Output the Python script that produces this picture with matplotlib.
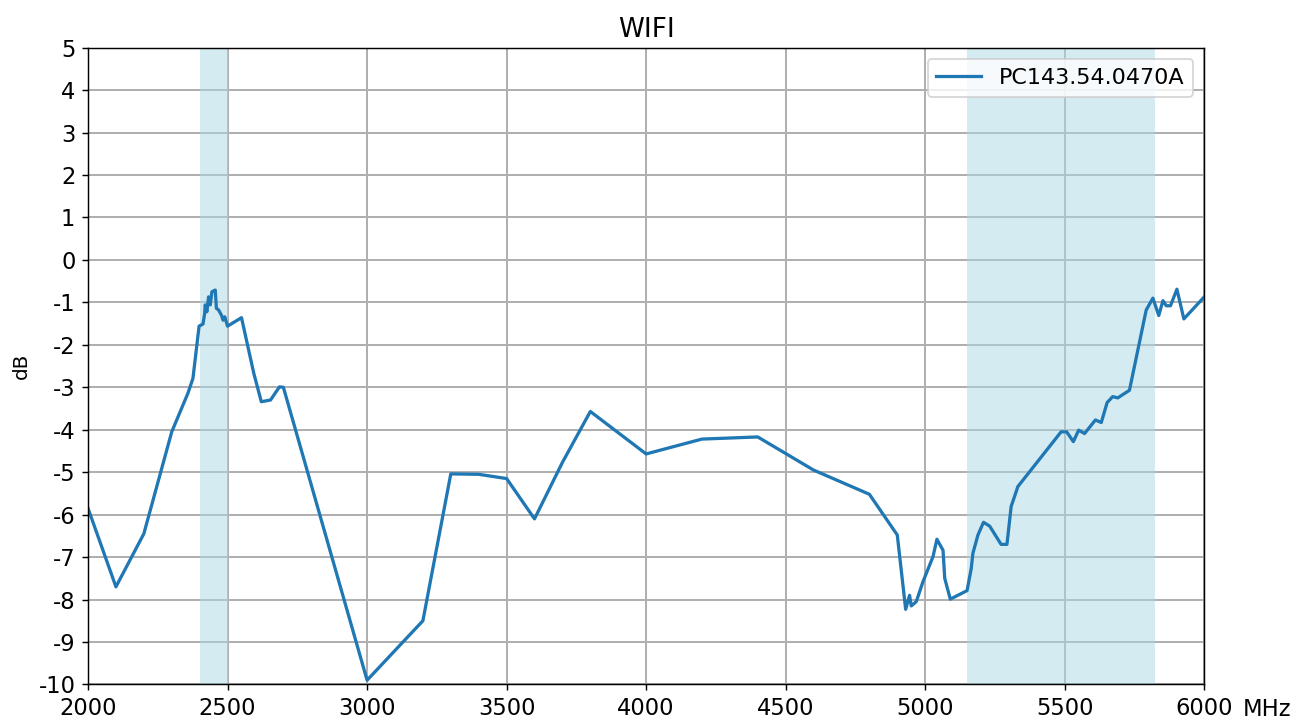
import matplotlib
matplotlib.use("Agg")
import matplotlib.pyplot as plt

plt.rcParams.update({"axes.unicode_minus": False, "font.size": 12})

freq_mhz = [2000, 2100, 2200, 2300, 2358, 2376, 2398, 2412, 2418, 2420, 2426,
            2432, 2438, 2444, 2456, 2460, 2468, 2478, 2484, 2490, 2500, 2550,
            2594, 2621, 2654, 2686, 2700, 3000, 3200, 3300, 3400, 3500, 3600,
            3700, 3800, 4000, 4200, 4400, 4600, 4800, 4900, 4930, 4944, 4950,
            4968, 4992, 5028, 5042, 5064, 5070, 5090, 5150, 5165, 5171, 5189,
            5209, 5231, 5272, 5293, 5308, 5332, 5487, 5507, 5531, 5550, 5571,
            5610, 5631, 5652, 5672, 5690, 5732, 5792, 5816, 5837, 5852, 5864,
            5879, 5902, 5927, 6000]
gain_db = [-5.85, -7.7, -6.45, -4.05, -3.14, -2.79, -1.56, -1.51, -1.26, -1.06, -1.22,
           -0.87, -1.06, -0.75, -0.71, -1.14, -1.18, -1.30, -1.42, -1.34, -1.56, -1.36,
           -2.67, -3.34, -3.30, -2.99, -3.0, -9.9, -8.5, -5.04, -5.05, -5.15, -6.1,
           -4.77, -3.57, -4.57, -4.22, -4.17, -4.95, -5.52, -6.48, -8.23, -7.9, -8.15,
           -8.05, -7.58, -6.99, -6.58, -6.84, -7.5, -7.99, -7.79, -7.27, -6.91, -6.48,
           -6.18, -6.27, -6.70, -6.70, -5.81, -5.34, -4.05, -4.05, -4.28, -4.01, -4.09,
           -3.77, -3.83, -3.36, -3.22, -3.25, -3.07, -1.18, -0.90, -1.31, -0.96, -1.08,
           -1.08, -0.69, -1.39, -0.87]

wifi_bands = [(2400, 2500), (5150, 5825)]
series_name = "PC143.54.0470A"

fig = plt.figure(figsize=(1304 / 130, 722 / 130), dpi=130)
ax = fig.add_axes([0.0675, 0.052, 0.856, 0.882])

for lo, hi in wifi_bands:
    ax.axvspan(lo, hi, color="lightblue", alpha=0.5, lw=0)
ax.plot(freq_mhz, gain_db, color="#1f77b4", lw=1.8, label=series_name)

ax.set_xlim(2000, 6000)
ax.set_ylim(-10, 5)
ax.set_xticks(range(2000, 6001, 500))
ax.set_yticks(range(-10, 6))
ax.tick_params(labelsize=12.5)
ax.grid(True, color="#b0b0b0", lw=1.1)
ax.set_axisbelow(True)
ax.set_ylabel("dB", fontsize=11)
ax.set_title("WIFI", fontsize=14.5)
ax.text(1.056, -0.022, "MHz", transform=ax.transAxes, ha="center", va="top", fontsize=12.5)
ax.legend(loc="upper right", fontsize=12.3)

fig.savefig("out.png", dpi=130)
